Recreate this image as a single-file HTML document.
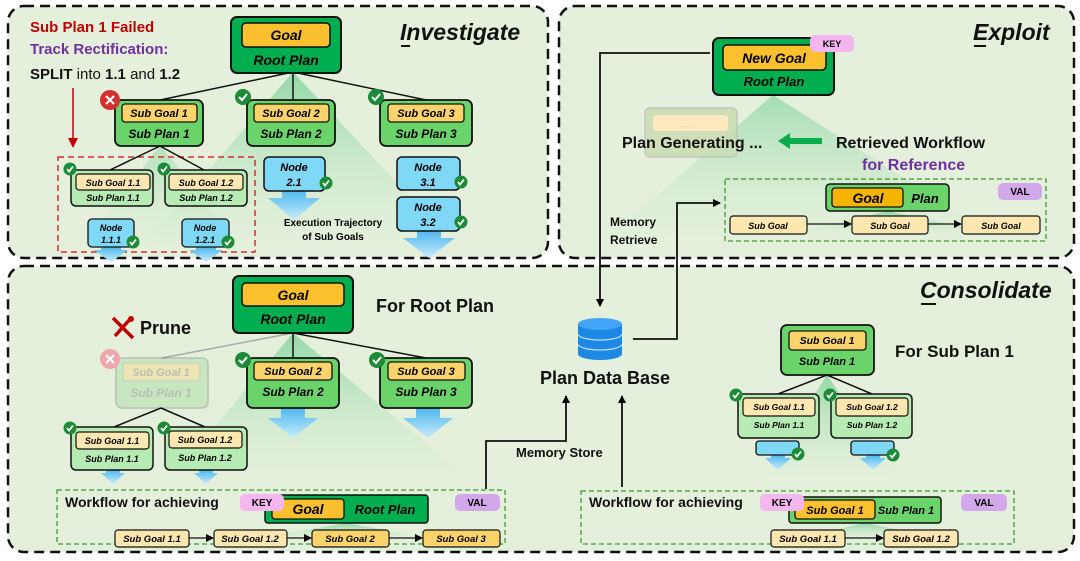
<!DOCTYPE html>
<html><head><meta charset="utf-8">
<style>
html,body{margin:0;padding:0;background:#fff;}
svg{display:block;}
text{font-family:"Liberation Sans",sans-serif;}
.bi{font-weight:bold;font-style:italic;}
.b{font-weight:bold;}
</style></head>
<body>
<svg width="1080" height="561" viewBox="0 0 1080 561" xmlns="http://www.w3.org/2000/svg">
<defs>
<linearGradient id="tri" x1="0" y1="0" x2="0" y2="1">
<stop offset="0" stop-color="#7fd39a" stop-opacity="0.8"/>
<stop offset="1" stop-color="#c9e8c6" stop-opacity="0"/>
</linearGradient>
<linearGradient id="ba" x1="0" y1="0" x2="0" y2="1">
<stop offset="0" stop-color="#4fb8ee"/>
<stop offset="1" stop-color="#c7ecfb"/>
</linearGradient>
<marker id="ar" markerWidth="8" markerHeight="8" refX="7" refY="4" orient="auto" markerUnits="userSpaceOnUse">
<path d="M0,0 L8,4 L0,8 z" fill="#000"/>
</marker>
<marker id="arr" markerWidth="10" markerHeight="10" refX="8" refY="5" orient="auto" markerUnits="userSpaceOnUse">
<path d="M0,0 L10,5 L0,10 z" fill="#c00000"/>
</marker>
<g id="chk"><circle r="8" fill="#1d8a35"/><path d="M-4,0 L-1,3 L4,-3" stroke="#fff" stroke-width="2" fill="none"/></g>
<g id="chks"><circle r="6.5" fill="#1d8a35"/><path d="M-3,0 L-1,2.5 L3,-2.5" stroke="#fff" stroke-width="1.8" fill="none"/></g>
</defs>

<!-- Panels -->
<rect x="8" y="6" width="540" height="252" rx="16" fill="#e4f0dc" stroke="#111" stroke-width="2.5" stroke-dasharray="10,6"/>
<rect x="559" y="6" width="515" height="252" rx="16" fill="#e4f0dc" stroke="#111" stroke-width="2.5" stroke-dasharray="10,6"/>
<rect x="8" y="266" width="1066" height="286" rx="16" fill="#e4f0dc" stroke="#111" stroke-width="2.5" stroke-dasharray="10,6"/>

<!-- ===== INVESTIGATE ===== -->
<polygon points="293,72 140,250 460,250" fill="url(#tri)"/>
<polygon points="160,145 80,250 245,250" fill="url(#tri)" opacity="0.6"/>
<text x="30" y="32" font-size="15" class="b" fill="#c00000">Sub Plan 1 Failed</text>
<text x="30" y="54" font-size="15" class="b" fill="#7030a0">Track Rectification:</text>
<text x="30" y="79" font-size="15" fill="#111"><tspan class="b">SPLIT</tspan> into <tspan class="b">1.1</tspan> and <tspan class="b">1.2</tspan></text>
<line x1="73" y1="88" x2="73" y2="146" stroke="#c00000" stroke-width="1.5" marker-end="url(#arr)"/>
<text x="400" y="40" font-size="23" class="bi" fill="#111">Investigate</text>
<line x1="401" y1="46" x2="410" y2="46" stroke="#111" stroke-width="2"/>

<line x1="293" y1="72" x2="160" y2="100" stroke="#111" stroke-width="1.5"/>
<line x1="293" y1="72" x2="293" y2="100" stroke="#111" stroke-width="1.5"/>
<line x1="293" y1="72" x2="426" y2="100" stroke="#111" stroke-width="1.5"/>
<rect x="231" y="17" width="110" height="56" rx="6" fill="#00ad4f" stroke="#111" stroke-width="2"/>
<rect x="242" y="23" width="88" height="24" rx="4" fill="#fbc02d" stroke="#111" stroke-width="1.5"/>
<text x="286" y="40" font-size="14" class="bi" text-anchor="middle">Goal</text>
<text x="286" y="65" font-size="14" class="bi" text-anchor="middle">Root Plan</text>

<g>
<rect x="115" y="100" width="88" height="46" rx="6" fill="#6ad46a" stroke="#111" stroke-width="1.8"/>
<rect x="122" y="104" width="75" height="18" rx="3" fill="#fbd36b" stroke="#111" stroke-width="1.3"/>
<text x="159" y="117" font-size="11" class="bi" text-anchor="middle">Sub Goal 1</text>
<text x="159" y="138" font-size="12" class="bi" text-anchor="middle">Sub Plan 1</text>
<circle cx="110" cy="100" r="10" fill="#d32f2f"/>
<path d="M106,96 L114,104 M114,96 L106,104" stroke="#fff" stroke-width="2.2"/>
</g>
<g>
<rect x="247" y="100" width="88" height="46" rx="6" fill="#6ad46a" stroke="#111" stroke-width="1.8"/>
<rect x="254" y="104" width="75" height="18" rx="3" fill="#fbd36b" stroke="#111" stroke-width="1.3"/>
<text x="291" y="117" font-size="11" class="bi" text-anchor="middle">Sub Goal 2</text>
<text x="291" y="138" font-size="12" class="bi" text-anchor="middle">Sub Plan 2</text>
<use href="#chk" x="243" y="97"/>
</g>
<g>
<rect x="380" y="100" width="92" height="46" rx="6" fill="#6ad46a" stroke="#111" stroke-width="1.8"/>
<rect x="388" y="104" width="76" height="18" rx="3" fill="#fbd36b" stroke="#111" stroke-width="1.3"/>
<text x="426" y="117" font-size="11" class="bi" text-anchor="middle">Sub Goal 3</text>
<text x="426" y="138" font-size="12" class="bi" text-anchor="middle">Sub Plan 3</text>
<use href="#chk" x="376" y="97"/>
</g>

<rect x="58" y="157" width="197" height="95" fill="none" stroke="#d32f2f" stroke-width="1.5" stroke-dasharray="6,4"/>
<line x1="160" y1="146" x2="110" y2="170" stroke="#111" stroke-width="1.5"/>
<line x1="160" y1="146" x2="204" y2="170" stroke="#111" stroke-width="1.5"/>
<rect x="71" y="170" width="82" height="36" rx="5" fill="#b6ecb4" stroke="#111" stroke-width="1.5"/>
<rect x="76" y="174" width="74" height="16" rx="3" fill="#fde7b0" stroke="#111" stroke-width="1.2"/>
<text x="113" y="186" font-size="9" class="bi" text-anchor="middle">Sub Goal 1.1</text>
<text x="113" y="201" font-size="9" class="bi" text-anchor="middle">Sub Plan 1.1</text>
<use href="#chks" x="70" y="169"/>
<rect x="165" y="170" width="82" height="36" rx="5" fill="#b6ecb4" stroke="#111" stroke-width="1.5"/>
<rect x="169" y="174" width="74" height="16" rx="3" fill="#fde7b0" stroke="#111" stroke-width="1.2"/>
<text x="206" y="186" font-size="9" class="bi" text-anchor="middle">Sub Goal 1.2</text>
<text x="206" y="201" font-size="9" class="bi" text-anchor="middle">Sub Plan 1.2</text>
<use href="#chks" x="164" y="169"/>

<!-- Nodes investigate -->
<polygon points="101,247 121,247 121,250 128,250 111,262 94,250 101,250" fill="url(#ba)"/>
<rect x="88" y="219" width="46" height="28" rx="4" fill="#7fd8f5" stroke="#111" stroke-width="1.3"/>
<text x="111" y="231" font-size="9" class="bi" text-anchor="middle">Node</text>
<text x="111" y="243" font-size="9" class="bi" text-anchor="middle">1.1.1</text>
<use href="#chks" x="133" y="242"/>
<polygon points="196,247 216,247 216,250 223,250 206,262 189,250 196,250" fill="url(#ba)"/>
<rect x="182" y="219" width="47" height="28" rx="4" fill="#7fd8f5" stroke="#111" stroke-width="1.3"/>
<text x="205" y="231" font-size="9" class="bi" text-anchor="middle">Node</text>
<text x="205" y="243" font-size="9" class="bi" text-anchor="middle">1.2.1</text>
<use href="#chks" x="228" y="242"/>

<polygon points="282,190 306,190 306,198 320,198 294,220 268,198 282,198" fill="url(#ba)"/>
<rect x="264" y="157" width="61" height="34" rx="5" fill="#7fd8f5" stroke="#111" stroke-width="1.5"/>
<text x="294" y="171" font-size="11" class="bi" text-anchor="middle">Node</text>
<text x="294" y="186" font-size="11" class="bi" text-anchor="middle">2.1</text>
<use href="#chks" x="326" y="183"/>
<text x="333" y="226" font-size="10" class="b" text-anchor="middle">Execution Trajectory</text>
<text x="333" y="240" font-size="10" class="b" text-anchor="middle">of Sub Goals</text>

<polygon points="417,231 441,231 441,238 455,238 429,258 403,238 417,238" fill="url(#ba)"/>
<rect x="397" y="157" width="63" height="33" rx="5" fill="#7fd8f5" stroke="#111" stroke-width="1.5"/>
<text x="428" y="171" font-size="11" class="bi" text-anchor="middle">Node</text>
<text x="428" y="186" font-size="11" class="bi" text-anchor="middle">3.1</text>
<use href="#chks" x="461" y="182"/>
<rect x="397" y="197" width="63" height="34" rx="5" fill="#7fd8f5" stroke="#111" stroke-width="1.5"/>
<text x="428" y="211" font-size="11" class="bi" text-anchor="middle">Node</text>
<text x="428" y="226" font-size="11" class="bi" text-anchor="middle">3.2</text>
<use href="#chks" x="461" y="222"/>

<!-- ===== EXPLOIT ===== -->
<polygon points="773,95 600,245 1010,245" fill="url(#tri)" opacity="0.8"/>
<text x="973" y="40" font-size="23" class="bi" fill="#111">Exploit</text>
<line x1="974" y1="46" x2="986" y2="46" stroke="#111" stroke-width="2"/>
<rect x="713" y="38" width="121" height="57" rx="6" fill="#00ad4f" stroke="#111" stroke-width="2"/>
<rect x="723" y="45" width="103" height="25" rx="4" fill="#fbc02d" stroke="#111" stroke-width="1.5"/>
<text x="774" y="63" font-size="14" class="bi" text-anchor="middle">New Goal</text>
<text x="774" y="86" font-size="13" class="bi" text-anchor="middle">Root Plan</text>
<rect x="810" y="35" width="44" height="17" rx="5" fill="#f4b6ee"/>
<text x="832" y="47" font-size="9" class="b" text-anchor="middle">KEY</text>

<rect x="645" y="108" width="92" height="49" rx="5" fill="#c9dcb0" stroke="#bbb" stroke-width="1.5" opacity="0.8"/>
<rect x="653" y="115" width="75" height="16" rx="3" fill="#fde9c0"/>
<text x="690" y="127" font-size="7" fill="#bbb" text-anchor="middle">... ...</text>
<text x="622" y="148" font-size="16" class="b" fill="#111">Plan Generating ...</text>
<polygon points="778,141 790,133 790,138 822,138 822,144 790,144 790,149" fill="#0aab4a"/>
<text x="836" y="148" font-size="16" class="b" fill="#111">Retrieved Workflow</text>
<text x="862" y="170" font-size="16" class="b" fill="#7030a0">for Reference</text>

<rect x="725" y="179" width="321" height="62" fill="none" stroke="#3a9a2e" stroke-width="1.3" stroke-dasharray="5,3"/>
<polygon points="887,211 790,235 1000,235" fill="url(#tri)"/>
<rect x="826" y="184" width="123" height="27" rx="4" fill="#6ad46a" stroke="#111" stroke-width="1.5"/>
<rect x="832" y="188" width="71" height="19" rx="3" fill="#f5b400" stroke="#111" stroke-width="1.3"/>
<text x="868" y="203" font-size="14" class="bi" text-anchor="middle">Goal</text>
<text x="925" y="203" font-size="13" class="bi" text-anchor="middle">Plan</text>
<rect x="998" y="183" width="44" height="17" rx="5" fill="#d3a8ea"/>
<text x="1020" y="195" font-size="10" class="b" text-anchor="middle">VAL</text>
<line x1="807" y1="224" x2="851" y2="224" stroke="#111" stroke-width="1.3" marker-end="url(#ar)"/>
<line x1="928" y1="224" x2="961" y2="224" stroke="#111" stroke-width="1.3" marker-end="url(#ar)"/>
<rect x="730" y="216" width="77" height="18" rx="3" fill="#fde7b0" stroke="#111" stroke-width="1.2"/>
<text x="768" y="229" font-size="9" class="bi" text-anchor="middle">Sub Goal</text>
<rect x="852" y="216" width="76" height="18" rx="3" fill="#fde7b0" stroke="#111" stroke-width="1.2"/>
<text x="890" y="229" font-size="9" class="bi" text-anchor="middle">Sub Goal</text>
<rect x="962" y="216" width="78" height="18" rx="3" fill="#fde7b0" stroke="#111" stroke-width="1.2"/>
<text x="1001" y="229" font-size="9" class="bi" text-anchor="middle">Sub Goal</text>

<text x="610" y="226" font-size="12" class="b" fill="#111">Memory</text>
<text x="610" y="244" font-size="12" class="b" fill="#111">Retrieve</text>

<!-- connectors -->
<polyline points="710,53 600,53 600,306" fill="none" stroke="#111" stroke-width="1.8" marker-end="url(#ar)"/>
<polyline points="633,339 677,339 677,203 720,203" fill="none" stroke="#111" stroke-width="1.8" marker-end="url(#ar)"/>

<!-- ===== CONSOLIDATE ===== -->
<text x="920" y="298" font-size="23" class="bi" fill="#111">Consolidate</text>
<line x1="921" y1="304" x2="936" y2="304" stroke="#111" stroke-width="2"/>

<polygon points="293,333 170,480 470,480" fill="url(#tri)"/>
<line x1="293" y1="333" x2="162" y2="358" stroke="#aaa" stroke-width="1.5"/>
<line x1="293" y1="333" x2="293" y2="358" stroke="#111" stroke-width="1.5"/>
<line x1="293" y1="333" x2="426" y2="358" stroke="#111" stroke-width="1.5"/>
<rect x="233" y="276" width="120" height="57" rx="6" fill="#00ad4f" stroke="#111" stroke-width="2"/>
<rect x="242" y="283" width="102" height="23" rx="4" fill="#fbc02d" stroke="#111" stroke-width="1.5"/>
<text x="293" y="300" font-size="14" class="bi" text-anchor="middle">Goal</text>
<text x="293" y="324" font-size="14" class="bi" text-anchor="middle">Root Plan</text>
<text x="376" y="312" font-size="18" class="b" fill="#111">For Root Plan</text>

<!-- prune icon -->
<path d="M113,318 L133,338" stroke="#c00000" stroke-width="3.5"/>
<path d="M131,318 L115,336" stroke="#c00000" stroke-width="3.5"/>
<circle cx="131" cy="319" r="3" fill="#c00000"/>
<text x="140" y="334" font-size="18" class="b" fill="#111">Prune</text>

<g opacity="0.35">
<rect x="116" y="358" width="92" height="50" rx="6" fill="#8fd98f" stroke="#777" stroke-width="1.8"/>
<rect x="123" y="363" width="77" height="18" rx="3" fill="#fbd36b" stroke="#999" stroke-width="1.3"/>
<text x="161" y="376" font-size="11" class="bi" text-anchor="middle" fill="#666">Sub Goal 1</text>
<text x="161" y="397" font-size="12" class="bi" text-anchor="middle" fill="#666">Sub Plan 1</text>
</g>
<circle cx="110" cy="359" r="10" fill="#f2a5ab"/>
<path d="M106,355 L114,363 M114,355 L106,363" stroke="#fff" stroke-width="2"/>

<polygon points="281,408 305,408 305,418 318,418 293,438 268,418 281,418" fill="url(#ba)"/>
<rect x="247" y="358" width="92" height="50" rx="6" fill="#6ad46a" stroke="#111" stroke-width="1.8"/>
<rect x="254" y="362" width="78" height="18" rx="3" fill="#fbd36b" stroke="#111" stroke-width="1.3"/>
<text x="293" y="375" font-size="11" class="bi" text-anchor="middle">Sub Goal 2</text>
<text x="293" y="396" font-size="12" class="bi" text-anchor="middle">Sub Plan 2</text>
<use href="#chk" x="243" y="360"/>
<polygon points="416,408 440,408 440,418 453,418 428,438 403,418 416,418" fill="url(#ba)"/>
<rect x="380" y="358" width="92" height="50" rx="6" fill="#6ad46a" stroke="#111" stroke-width="1.8"/>
<rect x="388" y="362" width="77" height="18" rx="3" fill="#fbd36b" stroke="#111" stroke-width="1.3"/>
<text x="426" y="375" font-size="11" class="bi" text-anchor="middle">Sub Goal 3</text>
<text x="426" y="396" font-size="12" class="bi" text-anchor="middle">Sub Plan 3</text>
<use href="#chk" x="377" y="360"/>

<line x1="161" y1="408" x2="114" y2="427" stroke="#111" stroke-width="1.5"/>
<line x1="161" y1="408" x2="205" y2="427" stroke="#111" stroke-width="1.5"/>
<polygon points="106,470 120,470 120,473 125,473 113,484 101,473 106,473" fill="url(#ba)"/>
<polygon points="199,470 213,470 213,473 218,473 206,484 194,473 199,473" fill="url(#ba)"/>
<rect x="71" y="427" width="82" height="43" rx="5" fill="#b6ecb4" stroke="#111" stroke-width="1.5"/>
<rect x="76" y="432" width="73" height="17" rx="3" fill="#fde7b0" stroke="#111" stroke-width="1.2"/>
<text x="112" y="444" font-size="9" class="bi" text-anchor="middle">Sub Goal 1.1</text>
<text x="112" y="462" font-size="9" class="bi" text-anchor="middle">Sub Plan 1.1</text>
<use href="#chks" x="70" y="428"/>
<rect x="165" y="427" width="82" height="43" rx="5" fill="#b6ecb4" stroke="#111" stroke-width="1.5"/>
<rect x="169" y="431" width="73" height="17" rx="3" fill="#fde7b0" stroke="#111" stroke-width="1.2"/>
<text x="205" y="443" font-size="9" class="bi" text-anchor="middle">Sub Goal 1.2</text>
<text x="205" y="461" font-size="9" class="bi" text-anchor="middle">Sub Plan 1.2</text>
<use href="#chks" x="164" y="428"/>

<!-- root workflow box -->
<rect x="57" y="490" width="448" height="54" fill="none" stroke="#3a9a2e" stroke-width="1.3" stroke-dasharray="5,3"/>
<polygon points="346,523 250,540 440,540" fill="url(#tri)"/>
<text x="65" y="507" font-size="14" class="b" fill="#111">Workflow for achieving</text>
<rect x="265" y="495" width="163" height="28" rx="3" fill="#00ad4f" stroke="#111" stroke-width="1.5"/>
<rect x="272" y="499" width="72" height="20" rx="3" fill="#fbc02d" stroke="#111" stroke-width="1.3"/>
<text x="308" y="514" font-size="14" class="bi" text-anchor="middle">Goal</text>
<text x="385" y="514" font-size="13" class="bi" text-anchor="middle">Root Plan</text>
<rect x="240" y="494" width="44" height="17" rx="5" fill="#f4b6ee"/>
<text x="262" y="506" font-size="10" class="b" text-anchor="middle">KEY</text>
<rect x="455" y="494" width="45" height="17" rx="5" fill="#d3a8ea"/>
<text x="477" y="506" font-size="10" class="b" text-anchor="middle">VAL</text>
<line x1="189" y1="538" x2="213" y2="538" stroke="#111" stroke-width="1.3" marker-end="url(#ar)"/>
<line x1="287" y1="538" x2="311" y2="538" stroke="#111" stroke-width="1.3" marker-end="url(#ar)"/>
<line x1="389" y1="538" x2="422" y2="538" stroke="#111" stroke-width="1.3" marker-end="url(#ar)"/>
<rect x="115" y="530" width="74" height="17" rx="3" fill="#fde7b0" stroke="#111" stroke-width="1.2"/>
<text x="152" y="542" font-size="9.5" class="bi" text-anchor="middle">Sub Goal 1.1</text>
<rect x="214" y="530" width="73" height="17" rx="3" fill="#fde7b0" stroke="#111" stroke-width="1.2"/>
<text x="250" y="542" font-size="9.5" class="bi" text-anchor="middle">Sub Goal 1.2</text>
<rect x="312" y="530" width="77" height="17" rx="3" fill="#fbd36b" stroke="#111" stroke-width="1.2"/>
<text x="350" y="542" font-size="9.5" class="bi" text-anchor="middle">Sub Goal 2</text>
<rect x="423" y="530" width="77" height="17" rx="3" fill="#fbd36b" stroke="#111" stroke-width="1.2"/>
<text x="461" y="542" font-size="9.5" class="bi" text-anchor="middle">Sub Goal 3</text>

<!-- memory store connectors -->
<polyline points="486,489 486,441 566,441 566,396" fill="none" stroke="#111" stroke-width="1.8" marker-end="url(#ar)"/>
<polyline points="622,487 622,396" fill="none" stroke="#111" stroke-width="1.8" marker-end="url(#ar)"/>
<text x="516" y="457" font-size="13" class="b" fill="#111">Memory Store</text>

<!-- database -->
<g>
<path d="M578,324 L578,354 A22,6 0 0 0 622,354 L622,324" fill="#1e88e5"/>
<ellipse cx="600" cy="324" rx="22" ry="6" fill="#42a5f5"/>
<path d="M578,334 A22,6 0 0 0 622,334" stroke="#bbdefb" stroke-width="1.2" fill="none"/>
<path d="M578,344 A22,6 0 0 0 622,344" stroke="#bbdefb" stroke-width="1.2" fill="none"/>
</g>
<text x="540" y="384" font-size="18" class="b" fill="#111">Plan Data Base</text>

<!-- sub plan 1 tree -->
<polygon points="827,375 760,480 900,480" fill="url(#tri)"/>
<line x1="827" y1="375" x2="778" y2="394" stroke="#111" stroke-width="1.5"/>
<line x1="827" y1="375" x2="872" y2="394" stroke="#111" stroke-width="1.5"/>
<rect x="781" y="325" width="93" height="50" rx="6" fill="#6ad46a" stroke="#111" stroke-width="1.8"/>
<rect x="789" y="331" width="77" height="19" rx="3" fill="#fbd36b" stroke="#111" stroke-width="1.3"/>
<text x="827" y="344" font-size="10.5" class="bi" text-anchor="middle">Sub Goal 1</text>
<text x="827" y="365" font-size="11" class="bi" text-anchor="middle">Sub Plan 1</text>
<text x="895" y="357" font-size="17" class="b" fill="#111">For Sub Plan 1</text>

<rect x="738" y="394" width="81" height="44" rx="5" fill="#b6ecb4" stroke="#111" stroke-width="1.5"/>
<rect x="743" y="398" width="72" height="18" rx="3" fill="#fde7b0" stroke="#111" stroke-width="1.2"/>
<text x="779" y="410" font-size="8.5" class="bi" text-anchor="middle">Sub Goal 1.1</text>
<text x="779" y="428" font-size="8.5" class="bi" text-anchor="middle">Sub Plan 1.1</text>
<use href="#chks" x="736" y="395"/>
<rect x="831" y="394" width="81" height="44" rx="5" fill="#b6ecb4" stroke="#111" stroke-width="1.5"/>
<rect x="836" y="398" width="72" height="18" rx="3" fill="#fde7b0" stroke="#111" stroke-width="1.2"/>
<text x="872" y="410" font-size="8.5" class="bi" text-anchor="middle">Sub Goal 1.2</text>
<text x="872" y="428" font-size="8.5" class="bi" text-anchor="middle">Sub Plan 1.2</text>
<use href="#chks" x="830" y="395"/>
<polygon points="771,455 785,455 785,458 791,458 778,470 765,458 771,458" fill="url(#ba)"/>
<polygon points="866,455 880,455 880,458 886,458 873,470 860,458 866,458" fill="url(#ba)"/>
<rect x="756" y="441" width="43" height="14" rx="3" fill="#7fd8f5" stroke="#111" stroke-width="1.3"/>
<rect x="851" y="441" width="43" height="14" rx="3" fill="#7fd8f5" stroke="#111" stroke-width="1.3"/>
<use href="#chks" x="798" y="454"/>
<use href="#chks" x="893" y="455"/>

<!-- sub plan workflow -->
<rect x="581" y="491" width="433" height="53" fill="none" stroke="#3a9a2e" stroke-width="1.3" stroke-dasharray="5,3"/>
<polygon points="865,523 790,540 950,540" fill="url(#tri)"/>
<text x="589" y="507" font-size="14" class="b" fill="#111">Workflow for achieving</text>
<rect x="789" y="497" width="152" height="26" rx="3" fill="#6ad46a" stroke="#111" stroke-width="1.5"/>
<rect x="795" y="500" width="80" height="19" rx="3" fill="#fbc02d" stroke="#111" stroke-width="1.3"/>
<text x="835" y="514" font-size="11" class="bi" text-anchor="middle">Sub Goal 1</text>
<text x="906" y="514" font-size="11" class="bi" text-anchor="middle">Sub Plan 1</text>
<rect x="760" y="494" width="44" height="17" rx="5" fill="#f4b6ee"/>
<text x="782" y="506" font-size="10" class="b" text-anchor="middle">KEY</text>
<rect x="961" y="494" width="46" height="17" rx="5" fill="#d3a8ea"/>
<text x="984" y="506" font-size="10" class="b" text-anchor="middle">VAL</text>
<line x1="845" y1="538" x2="883" y2="538" stroke="#111" stroke-width="1.3" marker-end="url(#ar)"/>
<rect x="771" y="530" width="74" height="17" rx="3" fill="#fde7b0" stroke="#111" stroke-width="1.2"/>
<text x="808" y="542" font-size="9.5" class="bi" text-anchor="middle">Sub Goal 1.1</text>
<rect x="884" y="530" width="74" height="17" rx="3" fill="#fde7b0" stroke="#111" stroke-width="1.2"/>
<text x="921" y="542" font-size="9.5" class="bi" text-anchor="middle">Sub Goal 1.2</text>
</svg>
</body></html>
